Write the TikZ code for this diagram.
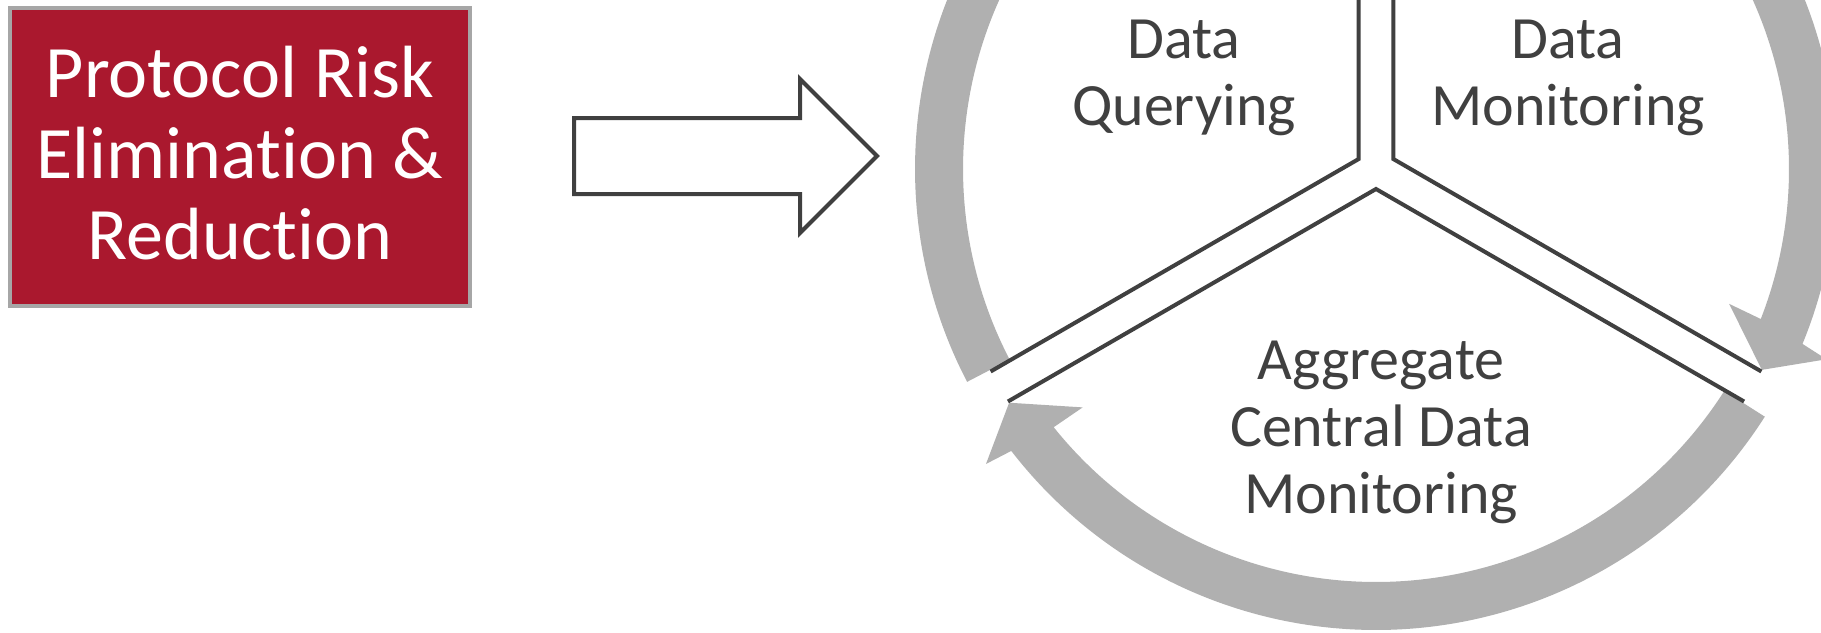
\documentclass[tikz,border=0pt]{standalone}
\usepackage{fontspec}
\setmainfont{Carlito}[Ligatures={NoCommon,NoContextual}]
\usetikzlibrary{calc}
\definecolor{boxred}{RGB}{170,24,46}
\definecolor{boxborder}{RGB}{166,166,166}
\definecolor{darkline}{RGB}{64,64,64}
\definecolor{arcgray}{RGB}{176,176,176}
\tikzset{
  riskbox/.style={draw=boxborder, line width=4pt, fill=boxred,
    minimum width=460pt, minimum height=298pt, inner sep=0pt},
  risktext/.style={text=white, align=center, inner sep=0pt,
    font=\fontsize{74}{81}\selectfont},
  steplabel/.style={text=darkline, align=center, inner sep=0pt,
    font=\fontsize{60}{67}\selectfont},
  blockarrow/.style={draw=darkline, line width=4pt, fill=white, line join=miter},
  sepline/.style={draw=darkline, line width=4pt, line join=miter},
  arcband/.style={fill=arcgray, draw=none}
}
\newcommand\cyclearrow[2]{%
  \fill[arcband] ($(C)+(#1:461)$) arc[start angle=#1, end angle={#2+5.2}, radius=461]
    -- ($(C)+({#2+4.6}:489)$) -- ($(C)+(#2:435)$) -- ($(C)+({#2+6.6}:378)$)
    -- ($(C)+({#2+6.2}:413)$) arc[start angle={#2+6.2}, end angle=#1, radius=413] -- cycle;}
\begin{document}
\begin{tikzpicture}[x=1pt, y=1pt]
\useasboundingbox (0,0) rectangle (1821,-632);
\clip (0,0) rectangle (1821,-632);
\fill[white] (0,0) rectangle (1821,-632);

% left box
\node[riskbox] (risk) at (240,-157) {};
\node[risktext] (risklabel) at ($(risk.center)+(0,4)$) {Protocol Risk\\Elimination \&\\Reduction};

% block arrow
\draw[blockarrow] (574,-118) -- (800,-118) -- (800,-79) -- (877,-156)
  -- (800,-233) -- (800,-194) -- (574,-194) -- cycle;

% cycle
\coordinate (C) at (1376,-169);
\cyclearrow{207.5}{92.5}
\cyclearrow{87.5}{-27.5}
\cyclearrow{327.5}{212.5}

\coordinate (aUL) at ($(C)+(150:20)$);
\coordinate (aUR) at ($(C)+(30:20)$);
\coordinate (aLo) at ($(C)+(270:20)$);
\draw[sepline] ($(aUL)+(90:425)$) -- (aUL) -- ($(aUL)+(210:425)$);
\draw[sepline] ($(aUR)+(90:425)$) -- (aUR) -- ($(aUR)+(-30:425)$);
\draw[sepline] ($(aLo)+(210:425)$) -- (aLo) -- ($(aLo)+(330:425)$);

\node[steplabel] (query) at (1184,-78) {Data\\Querying};
\node[steplabel] (monitor) at (1568,-78) {Data\\Monitoring};
\node[steplabel] (central) at (1381,-432) {Aggregate\\Central Data\\Monitoring};
\end{tikzpicture}
\end{document}
